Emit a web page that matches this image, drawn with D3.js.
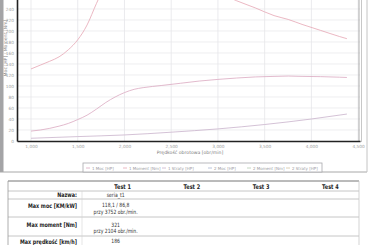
<!DOCTYPE html>
<html>
<head>
<meta charset="utf-8">
<script src="https://cdn.jsdelivr.net/npm/d3@7"></script>
<style>
  html, body { margin: 0; padding: 0; background: #fff; }
  svg { display: block; }
</style>
</head>
<body>
<div id="chart"></div>
<script>
// values
const rpm    = [1000, 1100, 1200, 1300, 1400, 1500, 1600, 1700, 1800, 1900, 2000, 2104, 2200, 2400, 2600, 2800, 3000, 3200, 3400, 3600, 3752, 3900, 4100, 4300, 4380];
const moment = [131, 138, 145, 153, 166, 184, 211, 250, 285, 305, 316, 321, 319, 310, 298, 284, 270, 255, 242, 228, 221, 212, 201, 190, 186];
const moc    = [18, 20, 23, 27, 32, 39, 47, 58, 70, 80, 88, 94, 97, 101, 105, 109, 112, 114.5, 116.5, 117.5, 118.1, 117.5, 117, 116, 115.5];
const stratyRpm = [1000, 1500, 2000, 2500, 3000, 3500, 4000, 4380];
const straty    = [5, 8, 11, 16, 22, 30, 40, 49];

const xTicks = [1000, 1500, 2000, 2500, 3000, 3500, 4000, 4500];
const yTicks = [0, 20, 40, 60, 80, 100, 120, 140, 160, 180, 200, 220, 240];
const yGrid  = [20, 40, 60, 80, 100, 120, 140, 160, 180, 200, 220, 240, 260, 280, 300, 320, 340];

const legendNames = ['1 Moc [HP]', '1 Moment [Nm]', '1 Straty [HP]', '2 Moc [HP]', '2 Moment [Nm]', '2 Straty [HP]'];
const legendColors = ['#dba8c0', '#e6a6b4', '#c9b3cc', '#aab6d2', '#b5cdb2', '#d3c4a2'];

const testNames = ['Test 1', 'Test 2', 'Test 3', 'Test 4'];
const rowLabels = ['Nazwa:', 'Max moc [KM/kW]', 'Max moment [Nm]', 'Max prędkość [km/h]'];
const test1Main = ['seria_t1', '118,1 / 86,8', '321', '186'];
const test1Sub  = ['', 'przy 3752 obr./min.', 'przy 2104 obr./min.', ''];

const W = 370, H = 245;
const svg = d3.select('#chart').append('svg')
    .attr('width', W)
    .attr('height', H);

// chart panel frame
svg.append('rect')
    .attr('x', 0).attr('y', -5)
    .attr('width', 3.5).attr('height', 177)
    .attr('fill', '#a4a4a6');
svg.append('line')
    .attr('x1', 0).attr('x2', 367).attr('y1', 172).attr('y2', 172)
    .attr('stroke', '#a8a8a8').attr('stroke-width', 1);
svg.append('line')
    .attr('x1', 367).attr('x2', 367).attr('y1', 0).attr('y2', 172)
    .attr('stroke', '#c4c4c4').attr('stroke-width', 1);

const x = d3.scaleLinear().domain([850, 4520]).range([17, 360]);
const y = d3.scaleLinear().domain([0, 360]).range([141, -57]);

const plot = svg.append('g');

// grid
plot.selectAll('line.vgrid')
    .data(xTicks)
    .enter().append('line')
    .attr('class', 'vgrid')
    .attr('x1', d => x(d)).attr('x2', d => x(d))
    .attr('y1', y(360)).attr('y2', y(0))
    .attr('stroke', '#e2e2e6').attr('stroke-width', 0.7);

plot.selectAll('line.hgrid')
    .data(yGrid)
    .enter().append('line')
    .attr('class', 'hgrid')
    .attr('x1', x(850)).attr('x2', x(4520))
    .attr('y1', d => y(d)).attr('y2', d => y(d))
    .attr('stroke', '#e6e6ea').attr('stroke-width', 0.7);

// right border of plot (double line)
plot.append('line')
    .attr('x1', 359).attr('x2', 359).attr('y1', -60).attr('y2', 141)
    .attr('stroke', '#9a9a9a').attr('stroke-width', 0.8);
plot.append('line')
    .attr('x1', 361.5).attr('x2', 361.5).attr('y1', -60).attr('y2', 142)
    .attr('stroke', '#c8c8c8').attr('stroke-width', 1);

// axes
const xAxis = d3.axisBottom(x).tickValues(xTicks).tickSize(0).tickFormat(d3.format(','));
const yAxis = d3.axisLeft(y).tickValues(yTicks).tickSize(0);

const gx = plot.append('g').attr('transform', `translate(0, ${y(0)})`).call(xAxis);
gx.select('.domain').attr('stroke', '#222').attr('stroke-width', 1.6);
gx.selectAll('text')
    .attr('dy', 0).attr('y', 7)
    .style('font-family', 'DejaVu Sans, sans-serif')
    .style('font-size', '4.3px')
    .style('fill', '#a0a0a0');

const gy = plot.append('g').attr('transform', `translate(${x(850)}, 0)`).call(yAxis);
gy.select('.domain').attr('stroke', '#222').attr('stroke-width', 1.6);
gy.selectAll('text')
    .attr('x', -3).attr('dy', '0.35em')
    .style('font-family', 'DejaVu Sans, sans-serif')
    .style('font-size', '4.3px')
    .style('fill', '#a0a0a0');

// axis titles
svg.append('text')
    .attr('transform', 'translate(7, 48) rotate(-90)')
    .attr('text-anchor', 'middle')
    .style('font-family', 'DejaVu Sans, sans-serif')
    .style('font-size', '4.6px')
    .style('fill', '#8a8a8a')
    .text('Moc [HP] / Moment [Nm]');

svg.append('text')
    .attr('x', 190).attr('y', 154)
    .attr('text-anchor', 'middle')
    .style('font-family', 'DejaVu Sans, sans-serif')
    .style('font-size', '4.6px')
    .style('fill', '#7a7a7a')
    .text('Prędkość obrotowa [obr/min]');

// curves
const line = d3.line()
    .x(d => x(d[0]))
    .y(d => y(d[1]))
    .curve(d3.curveMonotoneX);

plot.append('path')
    .datum(rpm.map((r, i) => [r, moment[i]]))
    .attr('d', line)
    .attr('fill', 'none')
    .attr('stroke', legendColors[1])
    .attr('stroke-width', 0.8);

plot.append('path')
    .datum(rpm.map((r, i) => [r, moc[i]]))
    .attr('d', line)
    .attr('fill', 'none')
    .attr('stroke', legendColors[0])
    .attr('stroke-width', 0.8);

plot.append('path')
    .datum(stratyRpm.map((r, i) => [r, straty[i]]))
    .attr('d', line)
    .attr('fill', 'none')
    .attr('stroke', legendColors[2])
    .attr('stroke-width', 0.8);

// legend
const legend = svg.append('g');
legend.append('rect')
    .attr('x', 83).attr('y', 163)
    .attr('width', 239).attr('height', 9)
    .attr('fill', '#fff')
    .attr('stroke', '#a9a9ad').attr('stroke-width', 0.8);

const legendPos = d3.scaleOrdinal().domain(legendNames).range([86, 123, 162, 208, 247, 286]);

const item = legend.selectAll('g.item')
    .data(legendNames)
    .enter().append('g')
    .attr('class', 'item')
    .attr('transform', d => `translate(${legendPos(d)}, 168)`);

item.append('line')
    .attr('x1', 0).attr('x2', 4)
    .attr('stroke', (d, i) => legendColors[i])
    .attr('stroke-width', 0.8);

item.append('text')
    .attr('x', 6).attr('y', 1.5)
    .style('font-family', 'DejaVu Sans, sans-serif')
    .style('font-size', '4px')
    .style('fill', '#9a9aa0')
    .text(d => d);

// table
const table = svg.append('g');
const tableLeft = 8, tableRight = 359, labelRight = 82;
const rowLines = [181, 191, 199, 217, 236];

table.append('line')
    .attr('x1', tableLeft).attr('x2', tableRight)
    .attr('y1', 181).attr('y2', 181)
    .attr('stroke', '#777').attr('stroke-width', 1);
table.selectAll('line.row')
    .data(rowLines.slice(1))
    .enter().append('line')
    .attr('class', 'row')
    .attr('x1', tableLeft).attr('x2', tableRight)
    .attr('y1', d => d).attr('y2', d => d)
    .attr('stroke', '#b8b8b8').attr('stroke-width', 0.8);
table.append('line')
    .attr('x1', tableLeft).attr('x2', tableLeft)
    .attr('y1', 181).attr('y2', 250)
    .attr('stroke', '#999').attr('stroke-width', 0.8);
table.append('line')
    .attr('x1', tableRight).attr('x2', tableRight)
    .attr('y1', 181).attr('y2', 250)
    .attr('stroke', '#c8c8c8').attr('stroke-width', 0.8);
table.append('line')
    .attr('x1', labelRight).attr('x2', labelRight)
    .attr('y1', 191).attr('y2', 250)
    .attr('stroke', '#d4d4d4').attr('stroke-width', 0.6);

const col = d3.scaleBand().domain(testNames).range([labelRight, tableRight]);
const sx = 0.78;
const tfont = 'DejaVu Sans, Verdana, sans-serif';

table.selectAll('text.head')
    .data(testNames)
    .enter().append('text')
    .attr('class', 'head')
    .attr('transform', d => `translate(${col(d) + col.bandwidth() / 2 + 6}, 188.5) scale(${sx},1)`)
    .attr('text-anchor', 'middle')
    .style('font-family', tfont)
    .style('font-weight', 'bold')
    .style('font-size', '6.4px')
    .style('fill', '#222')
    .text(d => d);

const rowMain = [196.8, 207, 226.5, 243];
const rowSub  = [0, 213.8, 233.2, 0];

table.selectAll('text.label')
    .data(rowLabels)
    .enter().append('text')
    .attr('class', 'label')
    .attr('transform', (d, i) => `translate(77, ${rowMain[i] + 0.5}) scale(${sx},1)`)
    .attr('text-anchor', 'end')
    .style('font-family', tfont)
    .style('font-weight', 'bold')
    .style('font-size', '6.2px')
    .style('fill', '#222')
    .text(d => d);

const c1 = col('Test 1') + col.bandwidth() / 2 - 1;
table.selectAll('text.val')
    .data(test1Main)
    .enter().append('text')
    .attr('class', 'val')
    .attr('transform', (d, i) => `translate(${c1}, ${rowMain[i]}) scale(${sx},1)`)
    .attr('text-anchor', 'middle')
    .style('font-family', tfont)
    .style('font-size', '5.8px')
    .style('fill', '#333')
    .text(d => d);

table.selectAll('text.sub')
    .data(test1Sub)
    .enter().append('text')
    .attr('class', 'sub')
    .attr('transform', (d, i) => `translate(${c1}, ${rowSub[i]}) scale(${sx},1)`)
    .attr('text-anchor', 'middle')
    .style('font-family', tfont)
    .style('font-size', '5.8px')
    .style('fill', '#333')
    .text(d => d);
</script>
</body>
</html>
